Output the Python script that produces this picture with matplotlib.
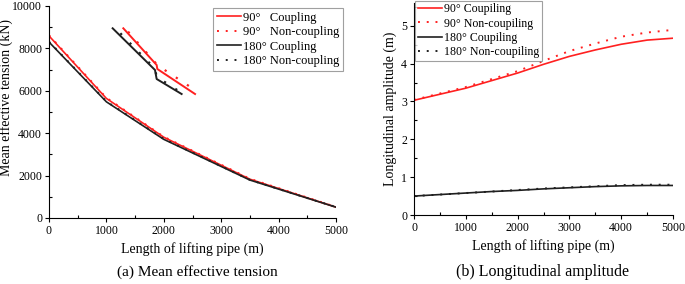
import matplotlib.pyplot as plt
from matplotlib.ticker import MultipleLocator
import numpy as np

# (a) mean effective tension
length_a = [0, 1000, 2000, 3500, 5000]
t90_coup = [8590, 5640, 3810, 1830, 510]
t90_noncoup = [8620, 5670, 3830, 1850, 520]
t180_coup = [8300, 5480, 3710, 1790, 510]
t180_noncoup = [8320, 5500, 3730, 1800, 515]

# detail view near 1000 m
det_x90 = [697, 1000, 1006, 1349]
det_t90 = [6552, 5650, 5552, 4937]
det_x90n = [740, 1010, 1340]
det_t90n = [6470, 5640, 5050]
det_x180 = [600, 985, 1000, 1227]
det_t180 = [6552, 5527, 5306, 4937]
det_x180n = [670, 985, 1000, 1210]
det_t180n = [6430, 5560, 5360, 4995]

# (b) longitudinal amplitude
length_b = [0, 500, 1000, 1500, 2000, 2500, 3000, 3500, 4000, 4500, 5000]
a90_coup = [3.03, 3.19, 3.35, 3.55, 3.75, 3.98, 4.19, 4.36, 4.51, 4.62, 4.67]
a90_noncoup = [3.04, 3.21, 3.38, 3.59, 3.80, 4.07, 4.33, 4.53, 4.71, 4.82, 4.89]
a180_coup = [0.50, 0.54, 0.58, 0.62, 0.65, 0.69, 0.72, 0.75, 0.77, 0.78, 0.78]
a180_noncoup = [0.50, 0.54, 0.58, 0.62, 0.66, 0.70, 0.73, 0.76, 0.79, 0.80, 0.80]

plt.rcParams['font.family'] = ['Liberation Serif', 'DejaVu Serif']

RED = '#ff2020'
BLK = '#202020'
DOT = (0, (1, 3.5))


def style_axes(ax):
    ax.spines['top'].set_visible(False)
    ax.spines['right'].set_visible(False)
    ax.tick_params(which='major', direction='out', length=3, width=0.8, pad=2, labelsize=8.5)
    ax.tick_params(which='minor', direction='in', length=2.5, width=0.8)


fig = plt.figure(figsize=(6.85, 2.84), dpi=100)

ax1 = fig.add_axes([49 / 685, 1 - 218 / 284, 287 / 685, 212 / 284])
ax1.plot(length_a, t90_coup, color=RED, lw=1.2, label='90°   Coupling')
ax1.plot(length_a, t90_noncoup, color=RED, lw=1.4, ls=DOT, label='90°   Non-coupling')
ax1.plot(length_a, t180_coup, color=BLK, lw=1.2, label='180° Coupling')
ax1.plot(length_a, t180_noncoup, color=BLK, lw=1.4, ls=DOT, label='180° Non-coupling')
ax1.set_xlim(0, 5000)
ax1.set_ylim(0, 10000)
ax1.xaxis.set_major_locator(MultipleLocator(1000))
ax1.xaxis.set_minor_locator(MultipleLocator(500))
ax1.yaxis.set_major_locator(MultipleLocator(2000))
ax1.yaxis.set_minor_locator(MultipleLocator(1000))
style_axes(ax1)
ax1.set_xlabel('Length of lifting pipe (m)', fontsize=10, labelpad=4)
ax1.set_ylabel('Mean effective tension (kN)', fontsize=10)
ax1.yaxis.set_label_coords(-0.125, 0.57)
leg1 = ax1.legend(loc='upper right', bbox_to_anchor=(1.025, 0.99), fontsize=9,
                  frameon=True, fancybox=False, edgecolor='#888888',
                  handlelength=1.9, handletextpad=0.2, labelspacing=0.2,
                  borderpad=0.3, borderaxespad=0)
leg1.get_frame().set_linewidth(0.8)

ins = fig.add_axes([110 / 685, 1 - 96.7 / 284, 90 / 685, 70 / 284])
ins.plot(det_x90, det_t90, color=RED, lw=1.4)
ins.plot(det_x90n, det_t90n, color=RED, lw=1.6, ls=(0, (1, 5)))
ins.plot(det_x180, det_t180, color=BLK, lw=1.4)
ins.plot(det_x180n, det_t180n, color=BLK, lw=1.6, ls=(0, (1, 5)))
ins.set_xlim(576, 1394)
ins.set_ylim(4871, 6591)
ins.axis('off')

ax2 = fig.add_axes([414 / 685, 1 - 215 / 284, 259 / 685, 212 / 284])
ax2.plot(length_b, a90_coup, color=RED, lw=1.2, label='90° Coupiling')
ax2.plot(length_b, a90_noncoup, color=RED, lw=1.4, ls=DOT, label='90° Non-coupiling')
ax2.plot(length_b, a180_coup, color=BLK, lw=1.2, label='180° Coupiling')
ax2.plot(length_b, a180_noncoup, color=BLK, lw=1.4, ls=DOT, label='180° Non-coupiling')
ax2.set_xlim(0, 5000)
ax2.set_ylim(0, 5.6)
ax2.xaxis.set_major_locator(MultipleLocator(1000))
ax2.xaxis.set_minor_locator(MultipleLocator(500))
ax2.yaxis.set_major_locator(MultipleLocator(1))
ax2.yaxis.set_minor_locator(MultipleLocator(0.5))
style_axes(ax2)
ax2.set_xlabel('Length of lifting pipe (m)', fontsize=10, labelpad=4)
ax2.set_ylabel('Longitudinal amplitude (m)', fontsize=10, labelpad=3)
leg2 = ax2.legend(loc='upper left', bbox_to_anchor=(0.005, 1.01), fontsize=8.6,
                  frameon=True, fancybox=False, edgecolor='#888888',
                  handlelength=2.0, handletextpad=0.2, labelspacing=0.2,
                  borderpad=0.2, borderaxespad=0)
leg2.get_frame().set_linewidth(0.8)

fig.text(197 / 685, 1 - 272 / 284, '(a) Mean effective tension', ha='center', va='center',
         fontsize=11)
fig.text(542 / 685, 1 - 272 / 284, '(b) Longitudinal amplitude', ha='center', va='center',
         fontsize=11.5)

fig.savefig('out.png', dpi=100)
